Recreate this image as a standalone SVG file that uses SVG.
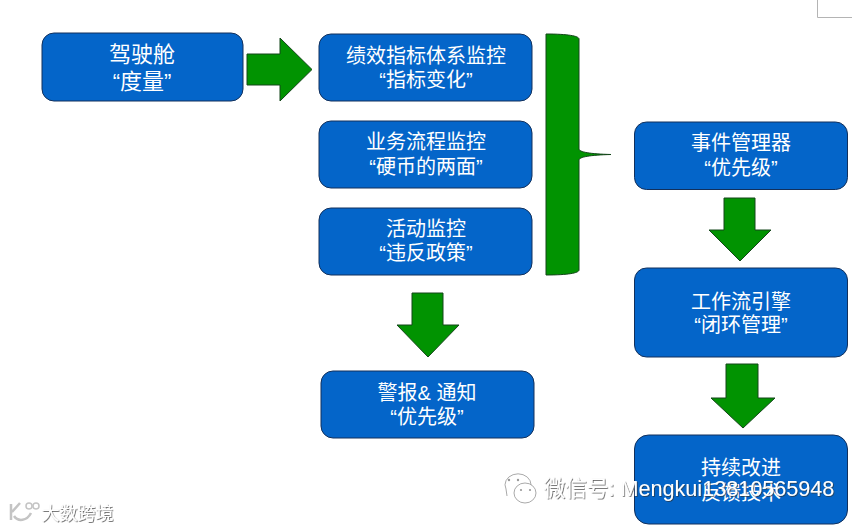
<svg xmlns="http://www.w3.org/2000/svg" width="862" height="529" viewBox="0 0 862 529">
<style>
text{font-family:"Liberation Sans","Noto Sans CJK SC",sans-serif;text-anchor:middle}
.b rect{fill:#0465c9;stroke:#12305c;stroke-width:1}
.b text{fill:#fff;font-size:20px}
.a{fill:#019301;stroke:#14461a;stroke-width:1;stroke-linejoin:miter}
.w{fill:#fff;filter:url(#s)}
</style>
<defs><filter id="s" x="-5%" y="-20%" width="110%" height="140%"><feDropShadow dx="0.800" dy="0.800" stdDeviation="0.600" flood-color="#333" flood-opacity="0.800"/></filter></defs>
<rect width="862" height="529" fill="#fff"/>
<path d="M817.500 0V17.500H852" fill="none" stroke="#b4b4b4"/>
<g id="connectors">
<path class="a" d="M247 54H280V38L312 69.500L280 101V85H247Z"/>
<path class="a" d="M412 293H443V325H459L428 357L397 325H412Z"/>
<path class="a" d="M724 198H755V230H771L740 261L709 230H724Z"/>
<path class="a" d="M726 364H758V398H775L743 428L711 398H726Z"/>
<path class="a" d="M546 34C568 34 579 36 579 39V149C579 152 590 154 611 154.500C590 155 579 157 579 160V270C579 273 568 275 546 275Z"/>
</g>
<g id="n1" class="b"><rect x="42" y="33" width="201" height="68" rx="12"/><text x="142" y="62" style="font-size:22px">驾驶舱</text><text x="142" y="89" style="font-size:22px">“度量”</text></g>
<g id="n2" class="b"><rect x="319" y="34" width="213" height="67" rx="12"/><text x="426" y="63">绩效指标体系监控</text><text x="426" y="87">“指标变化”</text></g>
<g id="n3" class="b"><rect x="319" y="121" width="213" height="67" rx="12"/><text x="426" y="149">业务流程监控</text><text x="426" y="174">“硬币的两面”</text></g>
<g id="n4" class="b"><rect x="319" y="208" width="213" height="67" rx="12"/><text x="426" y="236">活动监控</text><text x="426" y="260">“违反政策”</text></g>
<g id="n5" class="b"><rect x="321" y="371" width="213" height="67" rx="12"/><text x="427" y="400">警报&amp; 通知</text><text x="427" y="424">“优先级”</text></g>
<g id="n6" class="b"><rect x="634.500" y="122" width="213" height="67.500" rx="12"/><text x="741" y="150">事件管理器</text><text x="741" y="175">“优先级”</text></g>
<g id="n7" class="b"><rect x="634.500" y="268" width="213" height="89" rx="12"/><text x="741" y="309">工作流引擎</text><text x="741" y="332">“闭环管理”</text></g>
<g id="n8" class="b"><rect x="634.500" y="435" width="213" height="89" rx="14"/><text x="741" y="475">持续改进</text><text x="741" y="500">反馈技术</text></g>
<g id="watermark">
<text class="w" x="689" y="496" style="font-size:21.600px">微信号: Mengkui13810565948</text>
<text class="w" x="77.500" y="520" style="font-size:18px">大数跨境</text>
<g fill="#fff" stroke="#c4c4c4" stroke-width="1.500"><path d="M11 504V520M12 512L20 503M14 516C18 522 27 521 31 513" fill="none" stroke-width="2.500"/><circle cx="29" cy="506" r="3"/><circle cx="36" cy="506" r="3"/></g>
<g fill="#fff" stroke="#aaa"><path d="M507 496L506 489A13 11 0 1 1 523 495"/><ellipse cx="525" cy="493" rx="11" ry="10"/><g fill="#999" stroke="none"><circle cx="509" cy="480" r="1.200"/><circle cx="518" cy="480" r="1.200"/><circle cx="521" cy="490" r="1.100"/><circle cx="530" cy="490" r="1.100"/></g></g>
</g>
</svg>
